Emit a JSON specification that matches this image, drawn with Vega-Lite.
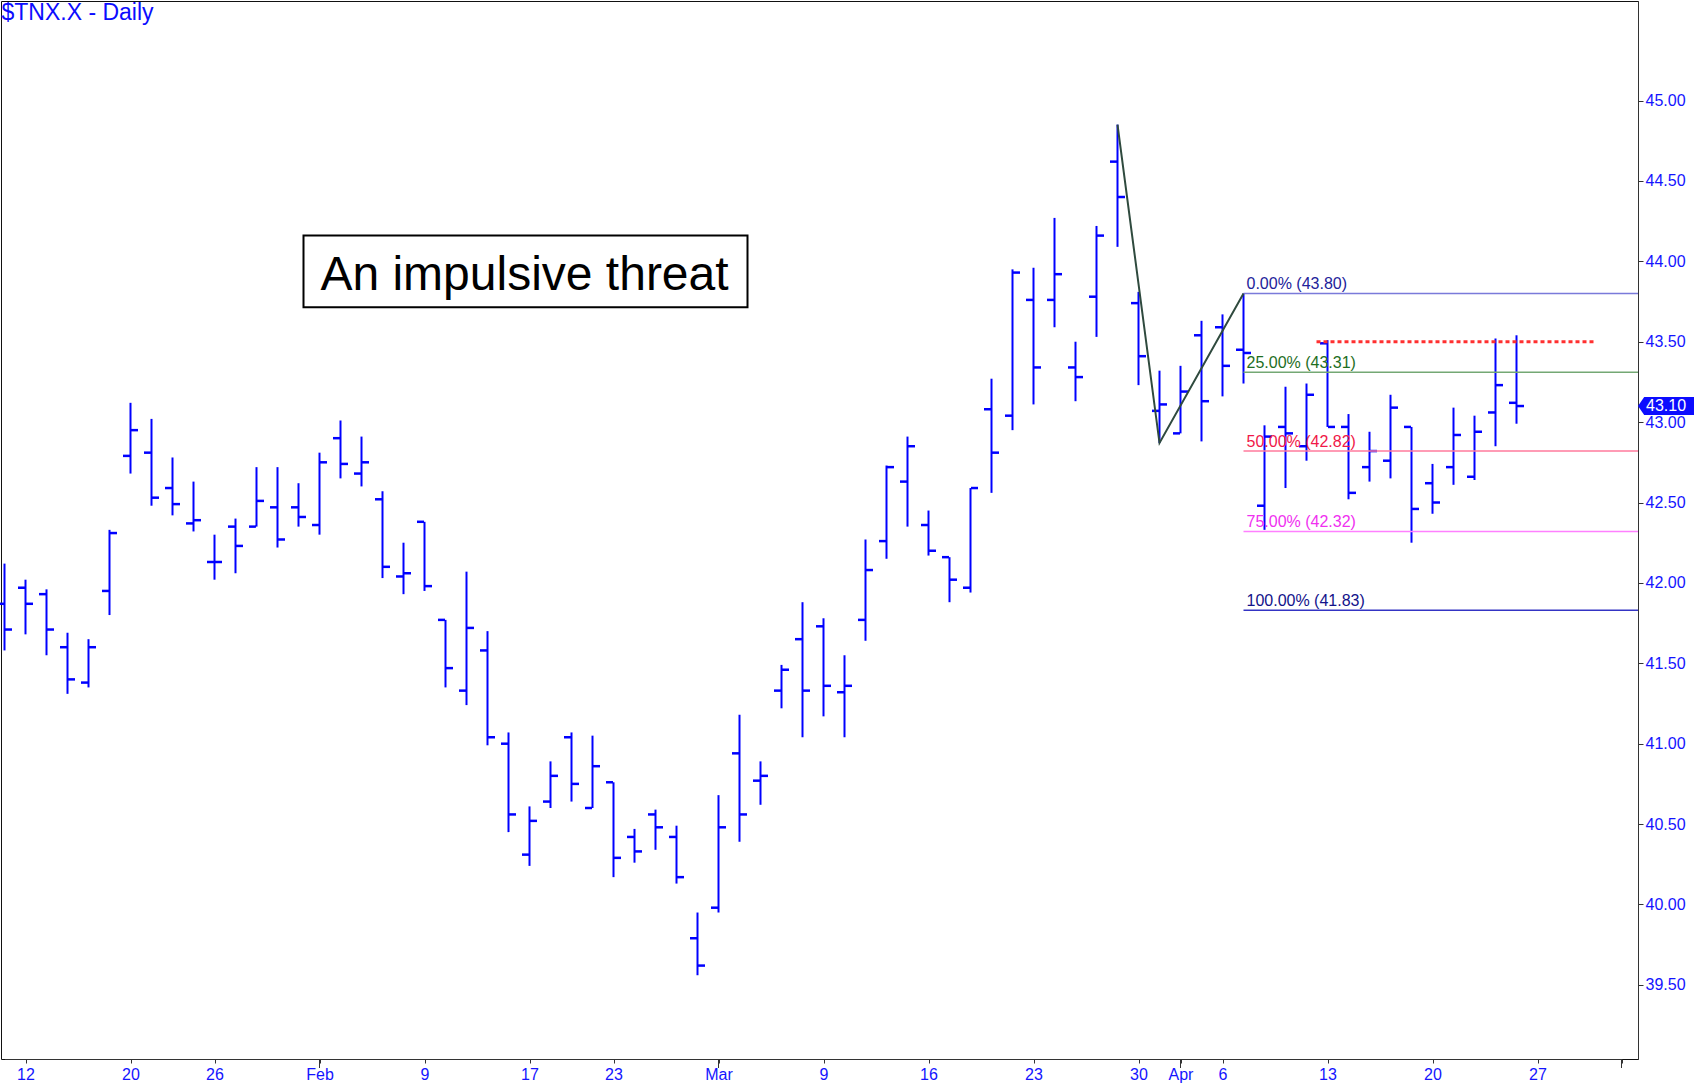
{
  "$schema": "https://vega.github.io/schema/vega-lite/v6.json",
  "width": 1637,
  "height": 1058,
  "autosize": {"type": "none"},
  "padding": {"left": 1, "top": 1, "right": 57, "bottom": 27},
  "background": "white",
  "config": {
    "view": {"stroke": "#111", "strokeWidth": 1},
    "font": "Liberation Sans"
  },
  "datasets": {
    "bars": [
      {"d":"2026-01-09","o":41.87,"h":42.12,"l":41.58,"c":41.71},
      {"d":"2026-01-12","o":41.97,"h":42.02,"l":41.68,"c":41.87},
      {"d":"2026-01-13","o":41.93,"h":41.96,"l":41.55,"c":41.71},
      {"d":"2026-01-14","o":41.60,"h":41.69,"l":41.31,"c":41.40},
      {"d":"2026-01-15","o":41.38,"h":41.65,"l":41.35,"c":41.60},
      {"d":"2026-01-16","o":41.95,"h":42.33,"l":41.80,"c":42.31},
      {"d":"2026-01-20","o":42.79,"h":43.12,"l":42.68,"c":42.95},
      {"d":"2026-01-21","o":42.81,"h":43.02,"l":42.48,"c":42.53},
      {"d":"2026-01-22","o":42.59,"h":42.78,"l":42.42,"c":42.49},
      {"d":"2026-01-23","o":42.37,"h":42.63,"l":42.32,"c":42.39},
      {"d":"2026-01-26","o":42.13,"h":42.30,"l":42.02,"c":42.13},
      {"d":"2026-01-27","o":42.35,"h":42.40,"l":42.06,"c":42.23},
      {"d":"2026-01-28","o":42.35,"h":42.72,"l":42.35,"c":42.51},
      {"d":"2026-01-29","o":42.47,"h":42.72,"l":42.22,"c":42.27},
      {"d":"2026-01-30","o":42.47,"h":42.62,"l":42.35,"c":42.41},
      {"d":"2026-02-02","o":42.36,"h":42.81,"l":42.30,"c":42.75},
      {"d":"2026-02-03","o":42.90,"h":43.01,"l":42.65,"c":42.74},
      {"d":"2026-02-04","o":42.68,"h":42.91,"l":42.60,"c":42.75},
      {"d":"2026-02-05","o":42.52,"h":42.57,"l":42.03,"c":42.10},
      {"d":"2026-02-06","o":42.04,"h":42.25,"l":41.93,"c":42.06},
      {"d":"2026-02-09","o":42.38,"h":42.38,"l":41.95,"c":41.98},
      {"d":"2026-02-10","o":41.77,"h":41.77,"l":41.35,"c":41.47},
      {"d":"2026-02-11","o":41.33,"h":42.07,"l":41.24,"c":41.72},
      {"d":"2026-02-12","o":41.58,"h":41.70,"l":40.99,"c":41.04},
      {"d":"2026-02-13","o":41.00,"h":41.07,"l":40.45,"c":40.56},
      {"d":"2026-02-17","o":40.31,"h":40.61,"l":40.24,"c":40.52},
      {"d":"2026-02-18","o":40.64,"h":40.89,"l":40.60,"c":40.80},
      {"d":"2026-02-19","o":41.04,"h":41.07,"l":40.64,"c":40.75},
      {"d":"2026-02-20","o":40.60,"h":41.05,"l":40.60,"c":40.86},
      {"d":"2026-02-23","o":40.76,"h":40.76,"l":40.17,"c":40.29},
      {"d":"2026-02-24","o":40.42,"h":40.47,"l":40.26,"c":40.33},
      {"d":"2026-02-25","o":40.56,"h":40.59,"l":40.34,"c":40.48},
      {"d":"2026-02-26","o":40.42,"h":40.49,"l":40.13,"c":40.17},
      {"d":"2026-02-27","o":39.79,"h":39.95,"l":39.56,"c":39.62},
      {"d":"2026-03-02","o":39.98,"h":40.68,"l":39.95,"c":40.48},
      {"d":"2026-03-03","o":40.94,"h":41.18,"l":40.39,"c":40.56},
      {"d":"2026-03-04","o":40.77,"h":40.89,"l":40.62,"c":40.80},
      {"d":"2026-03-05","o":41.33,"h":41.49,"l":41.22,"c":41.46},
      {"d":"2026-03-06","o":41.65,"h":41.88,"l":41.04,"c":41.33},
      {"d":"2026-03-09","o":41.73,"h":41.78,"l":41.17,"c":41.36},
      {"d":"2026-03-10","o":41.32,"h":41.55,"l":41.04,"c":41.36},
      {"d":"2026-03-11","o":41.77,"h":42.27,"l":41.64,"c":42.08},
      {"d":"2026-03-12","o":42.26,"h":42.73,"l":42.15,"c":42.72},
      {"d":"2026-03-13","o":42.63,"h":42.91,"l":42.35,"c":42.85},
      {"d":"2026-03-16","o":42.36,"h":42.45,"l":42.17,"c":42.20},
      {"d":"2026-03-17","o":42.16,"h":42.16,"l":41.88,"c":42.02},
      {"d":"2026-03-18","o":41.97,"h":42.59,"l":41.94,"c":42.59},
      {"d":"2026-03-19","o":43.08,"h":43.27,"l":42.56,"c":42.81},
      {"d":"2026-03-20","o":43.04,"h":43.95,"l":42.95,"c":43.93},
      {"d":"2026-03-23","o":43.76,"h":43.96,"l":43.11,"c":43.34},
      {"d":"2026-03-24","o":43.76,"h":44.27,"l":43.59,"c":43.92},
      {"d":"2026-03-25","o":43.34,"h":43.50,"l":43.13,"c":43.28},
      {"d":"2026-03-26","o":43.78,"h":44.22,"l":43.53,"c":44.16},
      {"d":"2026-03-27","o":44.62,"h":44.85,"l":44.09,"c":44.40},
      {"d":"2026-03-30","o":43.74,"h":43.81,"l":43.23,"c":43.41},
      {"d":"2026-03-31","o":43.07,"h":43.32,"l":42.87,"c":43.11},
      {"d":"2026-04-01","o":42.93,"h":43.35,"l":42.93,"c":43.19},
      {"d":"2026-04-02","o":43.54,"h":43.63,"l":42.88,"c":43.13},
      {"d":"2026-04-06","o":43.59,"h":43.67,"l":43.16,"c":43.35},
      {"d":"2026-04-07","o":43.45,"h":43.80,"l":43.24,"c":43.43},
      {"d":"2026-04-08","o":42.48,"h":42.98,"l":42.33,"c":42.91},
      {"d":"2026-04-09","o":42.97,"h":43.22,"l":42.59,"c":42.93},
      {"d":"2026-04-10","o":42.85,"h":43.24,"l":42.76,"c":43.17},
      {"d":"2026-04-13","o":43.49,"h":43.51,"l":42.97,"c":42.97},
      {"d":"2026-04-14","o":42.97,"h":43.05,"l":42.52,"c":42.56},
      {"d":"2026-04-15","o":42.72,"h":42.94,"l":42.63,"c":42.82},
      {"d":"2026-04-16","o":42.76,"h":43.17,"l":42.65,"c":43.09},
      {"d":"2026-04-17","o":42.97,"h":42.97,"l":42.25,"c":42.46},
      {"d":"2026-04-20","o":42.62,"h":42.74,"l":42.43,"c":42.50},
      {"d":"2026-04-21","o":42.72,"h":43.09,"l":42.61,"c":42.92},
      {"d":"2026-04-22","o":42.66,"h":43.04,"l":42.64,"c":42.94},
      {"d":"2026-04-23","o":43.06,"h":43.52,"l":42.85,"c":43.23},
      {"d":"2026-04-24","o":43.12,"h":43.54,"l":42.99,"c":43.10}
    ],
    "fib": [
      {"level":"0%","v":43.80,"label":"0.00% (43.80)"},
      {"level":"25%","v":43.31,"label":"25.00% (43.31)"},
      {"level":"50%","v":42.82,"label":"50.00% (42.82)"},
      {"level":"75%","v":42.32,"label":"75.00% (42.32)"},
      {"level":"100%","v":41.83,"label":"100.00% (41.83)"}
    ],
    "swing": [
      {"d":"2026-03-27","v":44.85},
      {"d":"2026-03-31","v":42.87},
      {"d":"2026-04-07","v":43.80}
    ],
    "months": [
      {"d":"2026-02-02"},
      {"d":"2026-03-02"},
      {"d":"2026-04-01"},
      {"d":"2026-05-01"}
    ]
  },
  "resolve": {"scale": {"color": "independent", "strokeWidth": "independent"}},
  "layer": [
    {
      "data": {"name": "bars"},
      "mark": {"type": "rule", "color": "#0000ff", "strokeWidth": 2},
      "encoding": {
        "x": {
          "field": "d", "type": "ordinal", "title": null,
          "scale": {
            "type": "point", "padding": 0, "range": [3.5, 1620.5],
            "domain": ["2026-01-09","2026-01-12","2026-01-13","2026-01-14","2026-01-15","2026-01-16","2026-01-20","2026-01-21","2026-01-22","2026-01-23","2026-01-26","2026-01-27","2026-01-28","2026-01-29","2026-01-30","2026-02-02","2026-02-03","2026-02-04","2026-02-05","2026-02-06","2026-02-09","2026-02-10","2026-02-11","2026-02-12","2026-02-13","2026-02-17","2026-02-18","2026-02-19","2026-02-20","2026-02-23","2026-02-24","2026-02-25","2026-02-26","2026-02-27","2026-03-02","2026-03-03","2026-03-04","2026-03-05","2026-03-06","2026-03-09","2026-03-10","2026-03-11","2026-03-12","2026-03-13","2026-03-16","2026-03-17","2026-03-18","2026-03-19","2026-03-20","2026-03-23","2026-03-24","2026-03-25","2026-03-26","2026-03-27","2026-03-30","2026-03-31","2026-04-01","2026-04-02","2026-04-06","2026-04-07","2026-04-08","2026-04-09","2026-04-10","2026-04-13","2026-04-14","2026-04-15","2026-04-16","2026-04-17","2026-04-20","2026-04-21","2026-04-22","2026-04-23","2026-04-24","2026-04-27","2026-04-28","2026-04-29","2026-04-30","2026-05-01"]
          },
          "axis": {
            "orient": "bottom",
            "values": ["2026-01-12","2026-01-20","2026-01-26","2026-02-02","2026-02-09","2026-02-17","2026-02-23","2026-03-02","2026-03-09","2026-03-16","2026-03-23","2026-03-30","2026-04-01","2026-04-06","2026-04-13","2026-04-20","2026-04-27","2026-05-01"],
            "labelExpr": "datum.value == '2026-02-02' ? 'Feb' : datum.value == '2026-03-02' ? 'Mar' : datum.value == '2026-04-01' ? 'Apr' : datum.value == '2026-05-01' ? '' : toNumber(substring(datum.value, 8, 10)) + ''",
            "labelAngle": 0,
            "labelFont": "Liberation Sans Narrow, Arial Narrow, Liberation Sans, sans-serif",
            "labelFontSize": 16,
            "labelColor": "#1414ff",
            "labelPadding": 3,
            "labelBaseline": "top",
            "tickColor": "#333",
            "tickSize": 4,
            "domainColor": "#333",
            "grid": false,
            "title": null
          }
        },
        "y": {
          "field": "l", "type": "quantitative", "title": null,
          "scale": {"domain": [39.039, 45.619], "nice": false, "zero": false},
          "axis": {
            "orient": "right",
            "values": [39.5, 40, 40.5, 41, 41.5, 42, 42.5, 43, 43.5, 44, 44.5, 45],
            "format": ".2f",
            "labelFont": "Liberation Sans",
            "labelFontSize": 16,
            "labelColor": "#1414ff",
            "labelPadding": 2,
            "tickSize": 5,
            "tickColor": "#333",
            "domainColor": "#333",
            "grid": false,
            "title": null
          }
        },
        "y2": {"field": "h"}
      }
    },
    {
      "data": {"name": "months"},
      "mark": {"type": "rule", "color": "#333", "strokeWidth": 1, "y2Offset": 9, "clip": false},
      "encoding": {
        "x": {"field": "d", "type": "ordinal"},
        "y": {"value": "height"},
        "y2": {"value": "height"}
      }
    },
    {
      "data": {"name": "bars"},
      "mark": {"type": "tick", "color": "#0000ff", "orient": "horizontal", "size": 7, "thickness": 2.5, "xOffset": -4, "opacity": 1},
      "encoding": {
        "x": {"field": "d", "type": "ordinal"},
        "y": {"field": "o", "type": "quantitative"}
      }
    },
    {
      "data": {"name": "bars"},
      "mark": {"type": "tick", "color": "#0000ff", "orient": "horizontal", "size": 7, "thickness": 2.5, "xOffset": 4, "opacity": 1},
      "encoding": {
        "x": {"field": "d", "type": "ordinal"},
        "y": {"field": "c", "type": "quantitative"}
      }
    },
    {
      "data": {"name": "fib"},
      "mark": {"type": "rule"},
      "encoding": {
        "x": {"datum": "2026-04-07", "type": "ordinal"},
        "x2": {"value": "width"},
        "y": {"field": "v", "type": "quantitative"},
        "color": {"field": "level", "type": "nominal", "legend": null,
          "scale": {"domain": ["0%","25%","50%","75%","100%"], "range": ["#7a7ada","#74a874","#ff7a9c","#ff80ff","#3434c4"]}},
        "strokeWidth": {"field": "level", "type": "nominal", "legend": null,
          "scale": {"domain": ["0%","25%","50%","75%","100%"], "range": [1.6, 1.6, 1.6, 1.6, 2.4]}}
      }
    },
    {
      "data": {"name": "fib"},
      "mark": {"type": "text", "align": "left", "baseline": "alphabetic", "dx": 3, "dy": -4, "fontSize": 16, "font": "Liberation Sans"},
      "encoding": {
        "x": {"datum": "2026-04-07", "type": "ordinal"},
        "y": {"field": "v", "type": "quantitative"},
        "text": {"field": "label"},
        "color": {"field": "level", "type": "nominal", "legend": null,
          "scale": {"domain": ["0%","25%","50%","75%","100%"], "range": ["#22229a","#1e6e1e","#f01848","#f030f0","#12128a"]}}
      }
    },
    {
      "data": {"name": "swing"},
      "mark": {"type": "line", "color": "#2f4a3e", "strokeWidth": 2},
      "encoding": {
        "x": {"field": "d", "type": "ordinal"},
        "y": {"field": "v", "type": "quantitative"}
      }
    },
    {
      "data": {"values": [{}]},
      "mark": {"type": "rule", "color": "#ff3030", "strokeWidth": 3, "strokeDash": [4, 3], "xOffset": -11, "x2Offset": -6},
      "encoding": {
        "x": {"datum": "2026-04-13", "type": "ordinal"},
        "x2": {"datum": "2026-04-30"},
        "y": {"datum": 43.5, "type": "quantitative"}
      }
    },
    {
      "data": {"values": [{}]},
      "mark": {"type": "rect", "fill": "white", "stroke": "black", "strokeWidth": 2, "xOffset": 5, "x2Offset": 8},
      "encoding": {
        "x": {"datum": "2026-01-30", "type": "ordinal"},
        "x2": {"datum": "2026-03-03"},
        "y": {"datum": 44.16, "type": "quantitative"},
        "y2": {"datum": 43.715}
      }
    },
    {
      "data": {"values": [{}]},
      "mark": {"type": "text", "align": "center", "baseline": "alphabetic", "fontSize": 48, "font": "Liberation Sans", "color": "black", "dx": -5},
      "encoding": {
        "x": {"datum": "2026-02-17", "type": "ordinal"},
        "y": {"datum": 43.82, "type": "quantitative"},
        "text": {"value": "An impulsive threat"}
      }
    },
    {
      "data": {"values": [{}]},
      "mark": {"type": "text", "align": "left", "baseline": "alphabetic", "fontSize": 23, "font": "Liberation Sans", "color": "#0c0cff", "dx": -3},
      "encoding": {
        "x": {"datum": "2026-01-09", "type": "ordinal"},
        "y": {"datum": 45.5, "type": "quantitative"},
        "text": {"value": "$TNX.X - Daily"}
      }
    },
    {
      "data": {"values": [{}]},
      "mark": {"type": "point", "filled": true, "fill": "#0c0cff", "opacity": 1, "strokeWidth": 0, "size": 3136,
        "shape": "M0,0 L0.22,-0.32 L2,-0.32 L2,0.32 L0.22,0.32 Z"},
      "encoding": {
        "x": {"value": "width"},
        "y": {"datum": 43.10, "type": "quantitative"}
      }
    },
    {
      "data": {"values": [{}]},
      "mark": {"type": "text", "align": "left", "baseline": "middle", "fontSize": 16, "font": "Liberation Sans", "color": "white", "dx": 8},
      "encoding": {
        "x": {"value": "width"},
        "y": {"datum": 43.10, "type": "quantitative"},
        "text": {"value": "43.10"}
      }
    }
  ]
}
